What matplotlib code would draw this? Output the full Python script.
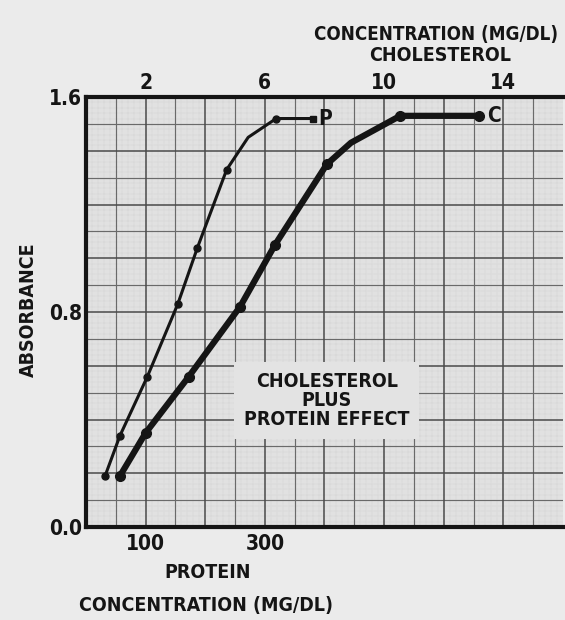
import numpy as np
import matplotlib.pyplot as plt

# absorbance readings, protein standard (bottom axis, mg/dl)
protein = [32, 57, 103, 154, 187, 236, 272, 319, 381]
protein_abs = [0.19, 0.34, 0.56, 0.83, 1.04, 1.33, 1.45, 1.52, 1.52]

# absorbance readings, cholesterol standard (top axis, mg/dl)
cholesterol = [1.14, 2.0, 3.45, 5.17, 6.34, 8.08, 8.89, 10.54, 13.19]
chol_abs = [0.19, 0.35, 0.56, 0.82, 1.05, 1.35, 1.43, 1.53, 1.53]

protein_ticks = [100, 300]
chol_ticks = [2, 6, 10, 14]
abs_ticks = [0.0, 0.8, 1.6]

INK = '#151515'
plt.rcParams['font.family'] = ['DejaVu Sans']
plt.rcParams['font.stretch'] = 'condensed'
plt.rcParams['font.weight'] = 'bold'
FS = 14
TICK_FS = 15

fig = plt.figure(figsize=(5.65, 6.2), dpi=100, facecolor='#ebebeb')
ax = fig.add_axes([0.1522, 0.15, 0.8442, 0.6935])
ax.set_facecolor('#e1e1e1')
ax.set_xlim(0, 800)
ax.set_ylim(0, 1.6)

# graph paper: fine, medium and heavy rulings
for x in np.arange(10, 800, 10):
    if x % 100 == 0:
        ax.axvline(x, color='#4a4a4a', lw=1.1, zorder=0.6)
    elif x % 50 == 0:
        ax.axvline(x, color='#6a6a6a', lw=0.85, zorder=0.5)
    else:
        ax.axvline(x, color='#c2c2c2', lw=0.35, ls=(0, (1, 1.5)), zorder=0.4)
for i in range(1, 80):
    y = i * 0.02
    if i % 10 == 0:
        ax.axhline(y, color='#4a4a4a', lw=1.1, zorder=0.6)
    elif i % 5 == 0:
        ax.axhline(y, color='#6a6a6a', lw=0.85, zorder=0.5)
    else:
        ax.axhline(y, color='#c2c2c2', lw=0.35, ls=(0, (1, 1.5)), zorder=0.4)

for side in ['left', 'bottom', 'top']:
    ax.spines[side].set_linewidth(3)
    ax.spines[side].set_color(INK)
ax.spines['right'].set_visible(False)

ax.set_xticks(protein_ticks)
ax.set_xticklabels([str(v) for v in protein_ticks])
ax.set_yticks(abs_ticks)
ax.set_yticklabels(['%.1f' % v for v in abs_ticks])
ax.tick_params(length=0, labelsize=TICK_FS, labelcolor=INK)
ax.tick_params(axis='x', pad=5)
ax.tick_params(axis='y', pad=3)

ax2 = ax.twiny()
ax2.set_xlim(0, 16)
ax2.set_xticks(chol_ticks)
ax2.set_xticklabels([str(v) for v in chol_ticks])
ax2.tick_params(length=0, labelsize=TICK_FS, labelcolor=INK, pad=3)
for s in ax2.spines.values():
    s.set_visible(False)

# protein curve (thin), square end marker
ax.plot(protein, protein_abs, color=INK, lw=2.2, zorder=3,
        marker='o', ms=5, markevery=[0, 1, 2, 3, 4, 5, 7])
ax.plot(protein[-1:], protein_abs[-1:], color=INK, marker='s', ms=5, zorder=3)
ax.text(protein[-1] + 8, protein_abs[-1], 'P', fontsize=TICK_FS, color=INK,
        va='center', ha='left', zorder=4)

# cholesterol curve (heavy)
ax2.plot(cholesterol, chol_abs, color=INK, lw=4.5, zorder=3,
         marker='o', ms=7, markevery=[0, 1, 2, 3, 4, 5, 7, 8],
         solid_capstyle='round')
ax2.text(cholesterol[-1] + 0.25, chol_abs[-1], 'C', fontsize=TICK_FS,
         color=INK, va='center', ha='left', zorder=4)

ax.text(404, 0.47, 'CHOLESTEROL\nPLUS\nPROTEIN EFFECT', fontsize=FS,
        color=INK, ha='center', va='center', linespacing=1.0, zorder=5,
        bbox=dict(facecolor='#e3e3e3', edgecolor='none', pad=7))

fig.text(0.772, 0.945, 'CONCENTRATION (MG/DL)', fontsize=13.5, color=INK,
         ha='center', va='center')
fig.text(0.779, 0.910, 'CHOLESTEROL', fontsize=FS, color=INK,
         ha='center', va='center')
fig.text(0.05, 0.50, 'ABSORBANCE', fontsize=FS, color=INK, rotation=90,
         ha='center', va='center')
fig.text(0.368, 0.076, 'PROTEIN', fontsize=FS, color=INK,
         ha='center', va='center')
fig.text(0.365, 0.023, 'CONCENTRATION (MG/DL)', fontsize=FS, color=INK,
         ha='center', va='center')

fig.savefig('out.png', dpi=100, facecolor=fig.get_facecolor())
